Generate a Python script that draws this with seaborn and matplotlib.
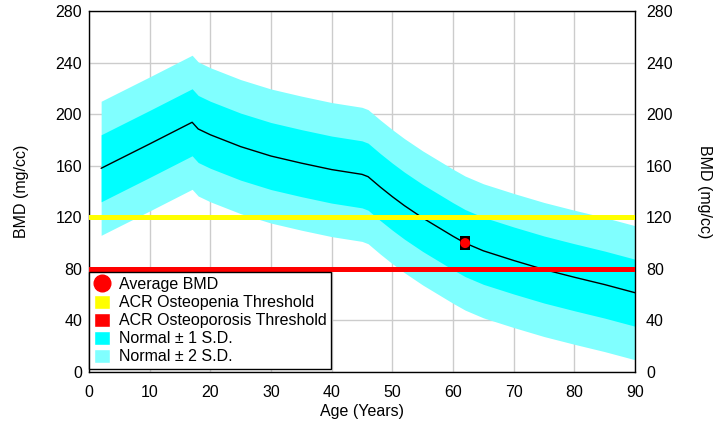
import numpy as np
import pandas as pd
import seaborn as sns
import matplotlib.pyplot as plt
from matplotlib.lines import Line2D
from matplotlib.patches import Patch

# values
ages = [2, 5, 10, 17, 18, 20, 25, 30, 35, 40, 45, 46, 48, 50, 52, 55, 60, 62, 65, 70, 75, 80, 85, 90]
bmd_mean = [158, 165.1, 176.9, 193.7, 188.5, 184.0, 174.8, 167.5, 162.0, 157.0, 153.3, 151.5,
            143.5, 136.0, 129.0, 119.5, 105.3, 100.0, 94.0, 86.5, 79.5, 73.5, 67.8, 61.5]
bmd_sd = [26] * len(ages)

patient_age = [62]
patient_bmd = [100]

osteopenia_thr = 120
osteoporosis_thr = 80

x_ticks = [0, 10, 20, 30, 40, 50, 60, 70, 80, 90]
y_ticks = [0, 40, 80, 120, 160, 200, 240, 280]

sns.set_style('white')
plt.rcParams['font.family'] = ['Liberation Sans', 'DejaVu Sans']
plt.rcParams['text.color'] = 'black'
plt.rcParams['axes.labelcolor'] = 'black'
plt.rcParams['xtick.color'] = 'black'
plt.rcParams['ytick.color'] = 'black'
fs = 11.5

df = pd.DataFrame({'age': ages, 'mean': bmd_mean, 'sd': bmd_sd})
pt = pd.DataFrame({'age': patient_age, 'bmd': patient_bmd})

fig = plt.figure(figsize=(7.23, 4.21), dpi=100)
ax = fig.add_axes([89/723, 49/421, 546/723, 361/421])

light = '#80ffff'
dark = '#00ffff'

# normal ranges
ax.fill_between(df['age'], df['mean'] - 2*df['sd'], df['mean'] + 2*df['sd'], color=light, lw=0, zorder=1)
ax.fill_between(df['age'], df['mean'] - df['sd'], df['mean'] + df['sd'], color=dark, lw=0, zorder=2)
sns.lineplot(data=df, x='age', y='mean', color='black', lw=1, ax=ax, zorder=3)

# thresholds
ax.axhline(osteopenia_thr, color='#ffff00', lw=3.6, zorder=4)
ax.axhline(osteoporosis_thr, color='#ff0000', lw=3.6, zorder=4)

# patient: tall black box with red dot on top
box = [(-0.33, -0.5), (0.33, -0.5), (0.33, 0.5), (-0.33, 0.5), (-0.33, -0.5)]
ax.scatter(pt['age'], pt['bmd'], marker=box, s=115, color='black', lw=0, zorder=5)
sns.scatterplot(data=pt, x='age', y='bmd', marker='o', s=52, color='#ff0000',
                edgecolor='none', ax=ax, zorder=6)

ax.set_xlim(0, 90)
ax.set_ylim(0, 280)
ax.set_xticks(x_ticks)
ax.set_yticks(y_ticks)
ax.grid(True, color='#cccccc', lw=1)
ax.set_axisbelow(True)
for s in ax.spines.values():
    s.set_color('black')
    s.set_linewidth(1)
ax.tick_params(axis='y', length=0, pad=5, labelsize=fs)
ax.tick_params(axis='x', length=0, pad=9.5, labelsize=fs)
ax.set_xlabel('Age (Years)', fontsize=fs, labelpad=2.5)
ax.set_ylabel('BMD (mg/cc)', fontsize=fs, labelpad=19)

ax2 = ax.twinx()
ax2.set_ylim(0, 280)
ax2.set_yticks(y_ticks)
ax2.tick_params(length=0, pad=8, labelsize=fs)
ax2.set_ylabel('BMD (mg/cc)', fontsize=fs, rotation=270, labelpad=28)
for s in ax2.spines.values():
    s.set_visible(False)

handles = [
    Line2D([], [], marker='o', ls='none', color='#ff0000', markersize=12),
    Patch(facecolor='#ffff00'),
    Patch(facecolor='#ff0000'),
    Patch(facecolor=dark),
    Patch(facecolor=light),
]
labels = ['Average BMD', 'ACR Osteopenia Threshold', 'ACR Osteoporosis Threshold',
          'Normal \u00b1 1 S.D.', 'Normal \u00b1 2 S.D.']
leg = ax.legend(handles, labels, loc='upper left', bbox_to_anchor=(0, 0.277),
                borderaxespad=0, fancybox=False, framealpha=1, edgecolor='black',
                fontsize=fs, handlelength=1.0, handleheight=1.0, handletextpad=0.55,
                labelspacing=0.15, borderpad=0.3)
leg.get_frame().set_linewidth(1)
leg.set_zorder(10)

fig.savefig('out.png', dpi=100)
